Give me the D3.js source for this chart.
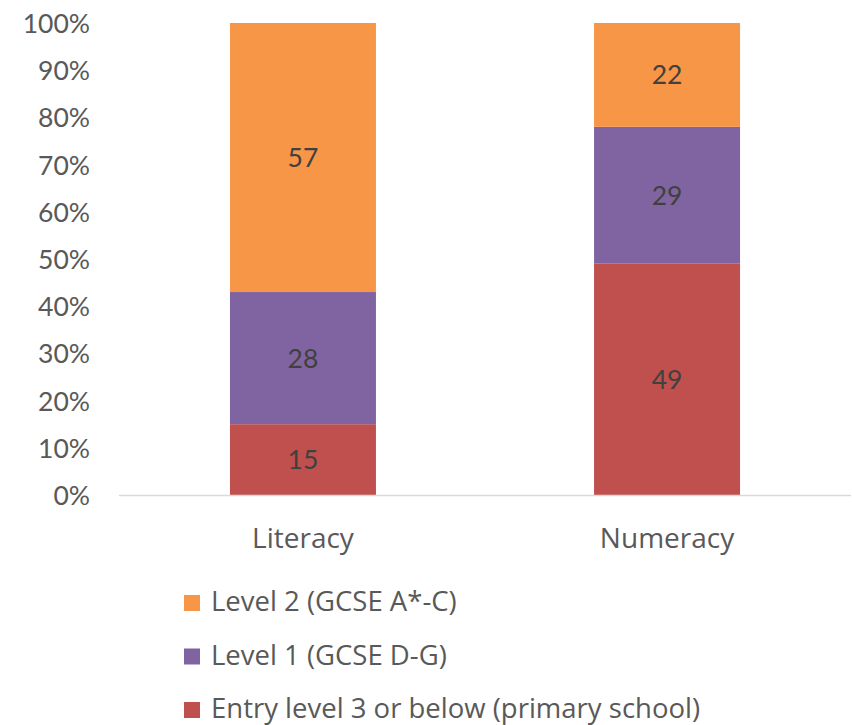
<!DOCTYPE html>
<html><head><meta charset="utf-8">
<script src="https://cdn.jsdelivr.net/npm/d3@7"></script>
<style>body{margin:0;background:#fff}</style>
</head><body>
<svg id="c" width="852" height="725"></svg>
<script>
const categories = ["Literacy", "Numeracy"];
const seriesNames = ["Entry level 3 or below (primary school)", "Level 1 (GCSE D-G)", "Level 2 (GCSE A*-C)"];
const entryLevel = [15, 49];
const level1 = [28, 29];
const level2 = [57, 22];
const yTicks = [0, 10, 20, 30, 40, 50, 60, 70, 80, 90, 100];
const colors = ["#C0504D", "#8064A2", "#F79646"];

const numFont = "Lato, 'Open Sans', sans-serif";
const txtFont = "'Open Sans', Lato, sans-serif";
const svg = d3.select("#c");
const y = d3.scaleLinear().domain([0, 100]).range([495, 23]);
const x = d3.scaleBand().domain(categories).range([120, 850]).paddingInner(0.599).paddingOuter(0.302);

const series = [entryLevel, level1, level2];
const rows = categories.map((c, i) => {
  const o = {cat: c};
  seriesNames.forEach((s, j) => o[s] = series[j][i]);
  return o;
});
const stacked = d3.stack().keys(seriesNames)(rows);

// axis
const yAxis = d3.axisLeft(y).tickValues(yTicks).tickFormat(d => d + "%").tickSize(0).tickPadding(0);
const ga = svg.append("g").attr("transform", "translate(90,0)").call(yAxis);
ga.select(".domain").remove();
ga.selectAll("text").attr("font-family", numFont).attr("font-size", 26.5).attr("fill", "#595959").attr("dy", "0.36em");

// bars
stacked.forEach((layer, j) => {
  svg.append("g").selectAll("rect").data(layer).join("rect")
    .attr("x", d => x(d.data.cat))
    .attr("width", x.bandwidth())
    .attr("y", d => y(d[1]))
    .attr("height", d => y(d[0]) - y(d[1]))
    .attr("fill", colors[j]);
  svg.append("g").selectAll("text").data(layer).join("text")
    .attr("x", d => x(d.data.cat) + x.bandwidth() / 2)
    .attr("y", d => y((d[0] + d[1]) / 2))
    .attr("dy", "0.36em")
    .attr("text-anchor", "middle")
    .attr("font-family", numFont).attr("font-size", 26.5).attr("fill", "#404040")
    .text(d => d[1] - d[0]);
});

// baseline
svg.append("line").attr("x1", 119).attr("x2", 851).attr("y1", y(0) + 0.5).attr("y2", y(0) + 0.5)
  .attr("stroke", "#d9d9d9").attr("stroke-width", 1.5);

// category labels
const gx = svg.append("g").attr("transform", `translate(0,${y(0)})`).call(d3.axisBottom(x).tickSize(0).tickPadding(0));
gx.select(".domain").remove();
gx.selectAll("text").attr("font-family", txtFont).attr("font-size", 28).attr("fill", "#595959").attr("y", 53).attr("dy", 0);

// legend
const legendOrder = [2, 1, 0];
const lg = svg.append("g");
legendOrder.forEach((j, k) => {
  const base = 611 + k * 53.5;
  lg.append("rect").attr("x", 184).attr("y", base - 16).attr("width", 16).attr("height", 16).attr("fill", colors[j]);
  lg.append("text").attr("x", 211).attr("y", base)
    .attr("font-family", txtFont).attr("font-size", 27.5).attr("fill", "#595959").text(seriesNames[j]);
});
</script>
</body></html>
